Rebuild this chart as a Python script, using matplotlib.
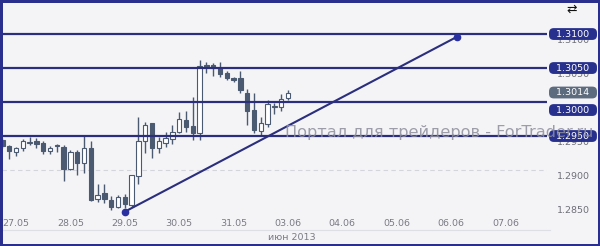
import matplotlib
matplotlib.use('Agg')
import matplotlib.pyplot as plt
import matplotlib.transforms as mtransforms
from matplotlib.patches import Rectangle
import numpy as np

# 3-hour candles, index 0 = 27.05 00:00 (8 candles per day, weekend skipped)
first_idx = -2
opens  = [1.2944, 1.2935, 1.2926, 1.2932, 1.2940, 1.2942, 1.2940, 1.2928, 1.2936,
          1.2934, 1.2901, 1.2927, 1.2911, 1.2933, 1.2857, 1.2866, 1.2856, 1.2846,
          1.2860, 1.2849, 1.2891, 1.2942, 1.2969, 1.2933, 1.2940, 1.2945, 1.2956,
          1.2974, 1.2965, 1.2954, 1.3054, 1.3054, 1.3050, 1.3042, 1.3035, 1.3035,
          1.3014, 1.2988, 1.2958, 1.2968, 1.2993, 1.2993, 1.3006]
highs  = [1.2947, 1.2937, 1.2934, 1.2946, 1.2949, 1.2947, 1.2943, 1.2935, 1.2938,
          1.2937, 1.2930, 1.2930, 1.2950, 1.2943, 1.2880, 1.2880, 1.2862, 1.2863,
          1.2865, 1.2893, 1.2978, 1.2970, 1.2969, 1.2949, 1.2956, 1.2966, 1.2986,
          1.2987, 1.3008, 1.3062, 1.3059, 1.3058, 1.3059, 1.3046, 1.3037, 1.3046,
          1.3019, 1.3014, 1.2978, 1.3003, 1.2998, 1.3012, 1.3018]
lows   = [1.2932, 1.2916, 1.2920, 1.2928, 1.2937, 1.2932, 1.2923, 1.2923, 1.2927,
          1.2884, 1.2900, 1.2893, 1.2896, 1.2855, 1.2853, 1.2851, 1.2841, 1.2844,
          1.2844, 1.2846, 1.2880, 1.2925, 1.2917, 1.2925, 1.2934, 1.2939, 1.2954,
          1.2956, 1.2944, 1.2944, 1.3043, 1.3038, 1.3037, 1.3032, 1.3030, 1.3013,
          1.2966, 1.2954, 1.2950, 1.2964, 1.2983, 1.2987, 1.3003]
closes = [1.2935, 1.2928, 1.2932, 1.2942, 1.2941, 1.2938, 1.2928, 1.2932, 1.2935,
          1.2901, 1.2927, 1.2910, 1.2933, 1.2856, 1.2864, 1.2857, 1.2845, 1.2861,
          1.2850, 1.2893, 1.2942, 1.2966, 1.2932, 1.2942, 1.2947, 1.2956, 1.2975,
          1.2963, 1.2954, 1.3053, 1.3051, 1.3050, 1.3041, 1.3035, 1.3033, 1.3017,
          1.2987, 1.2959, 1.2969, 1.2997, 1.2994, 1.3005, 1.3014]

day_labels = ['27.05', '28.05', '29.05', '30.05', '31.05',
              '03.06', '04.06', '05.06', '06.06', '07.06']
candles_per_day = 8
month_label = 'июн 2013'

levels = [1.3100, 1.3050, 1.3000, 1.2950]
level_label_shift = [0, 0, -8, 0]          # pixels, to keep boxes apart
price_ticks = [1.3100, 1.3050, 1.2950, 1.2900, 1.2850]
grid_ticks = [1.2900]
current_price = closes[-1]

trend_x = [16, 64.8]
trend_y = [1.28387, 1.30956]

watermark = 'Портал для трейдеров - ForTrader.ru'

BG = '#f4f4f7'
NAVY = '#2a2e7c'
BOX = '#27308c'
CANDLE = '#4b5a70'

fig = plt.figure(figsize=(6, 2.46), dpi=100)
fig.patch.set_facecolor(BG)
ax = fig.add_axes([2 / 600, 30 / 246, 545 / 600, 214 / 246])
ax.set_facecolor(BG)
ax.set_xlim(-2.06, 78.1)
ax.set_ylim(1.28324, 1.31471)
for s in ax.spines.values():
    s.set_visible(False)
ax.set_xticks([])
ax.set_yticks([])

# dashed grid
for g in grid_ticks:
    ax.axhline(g, color='#d4d4dc', lw=0.8, ls=(0, (4, 3)), zorder=1)

# candles
xs = np.arange(first_idx, first_idx + len(opens))
w = 0.66
for x, o, h, l, c in zip(xs, opens, highs, lows, closes):
    ax.vlines(x, l, h, color=CANDLE, lw=1.0, zorder=2)
    bottom = min(o, c)
    height = max(abs(c - o), 0.00016)
    fc = 'white' if c > o else CANDLE
    ax.add_patch(Rectangle((x - w / 2, bottom), w, height, fc=fc, ec=CANDLE,
                           lw=0.8, zorder=3))

# horizontal levels
for lv in levels:
    ax.axhline(lv, color=NAVY, lw=1.6, zorder=4)

# trendline
ax.plot(trend_x, trend_y, color=NAVY, lw=1.5, zorder=5, solid_capstyle='round')
ax.plot(trend_x, trend_y, 'o', color='#2a30a0', ms=4.5, zorder=6)

# price scale: gray tick labels (partly hidden under the level boxes)
ytrans = ax.get_yaxis_transform()
lab_x = (573 - 2) / 545
for t in price_ticks:
    tr = mtransforms.offset_copy(ytrans, fig=fig, y=-6, units='dots')
    ax.text(lab_x, t, f'{t:.4f}', transform=tr, ha='center', va='center',
            fontsize=6.8, color='#6e6e78', clip_on=False, zorder=6)

# level boxes
for lv, sh in zip(levels, level_label_shift):
    tr = mtransforms.offset_copy(ytrans, fig=fig, y=sh, units='dots')
    ax.text(lab_x, lv, f'  {lv:.4f}  ', transform=tr, ha='center', va='center',
            fontsize=6.8, color='white', clip_on=False, zorder=8,
            bbox=dict(boxstyle='round,pad=0.15,rounding_size=0.5', fc=BOX, ec='none'))
ax.text(lab_x, current_price, f'  {current_price:.4f}  ', transform=ytrans,
        ha='center', va='center', fontsize=6.8, color='white', clip_on=False,
        zorder=8, bbox=dict(boxstyle='round,pad=0.15,rounding_size=0.5',
                            fc='#5c6b7e', ec='none'))

# date labels
xtrans = ax.get_xaxis_transform()
for k, lab in enumerate(day_labels):
    ax.text(k * candles_per_day, -0.035, lab, transform=xtrans, ha='center',
            va='center', fontsize=6.8, color='#7a7a84', clip_on=False)
ax.text(5 * candles_per_day + 0.5, -0.10, month_label, transform=xtrans,
        ha='center', va='center', fontsize=6.8, color='#7a7a84', clip_on=False)
fig.add_artist(plt.Line2D([2 / 600, 550 / 600], [16 / 246, 16 / 246],
                          color='#dedee6', lw=0.8))

# little scale icon, top right
fig.text(572 / 600, 1 - 9 / 246, '⇄', ha='center', va='center', fontsize=9,
         color='#111111')

# watermark, fitted to its width in the picture
wm = fig.text(285 / 600, 1 - 132 / 246, watermark, ha='left', va='center',
              fontsize=10.5, color='#8e8e9c', alpha=0.85, zorder=10)
fig.canvas.draw()
width = wm.get_window_extent().width
wm.set_fontsize(10.5 * 307 / width)

# frame
fig.add_artist(Rectangle((0, 0), 1, 1, transform=fig.transFigure, fill=False,
                         ec='#2a2f8e', lw=3.6, zorder=20))

fig.savefig('out.png', dpi=100, facecolor=fig.get_facecolor())
